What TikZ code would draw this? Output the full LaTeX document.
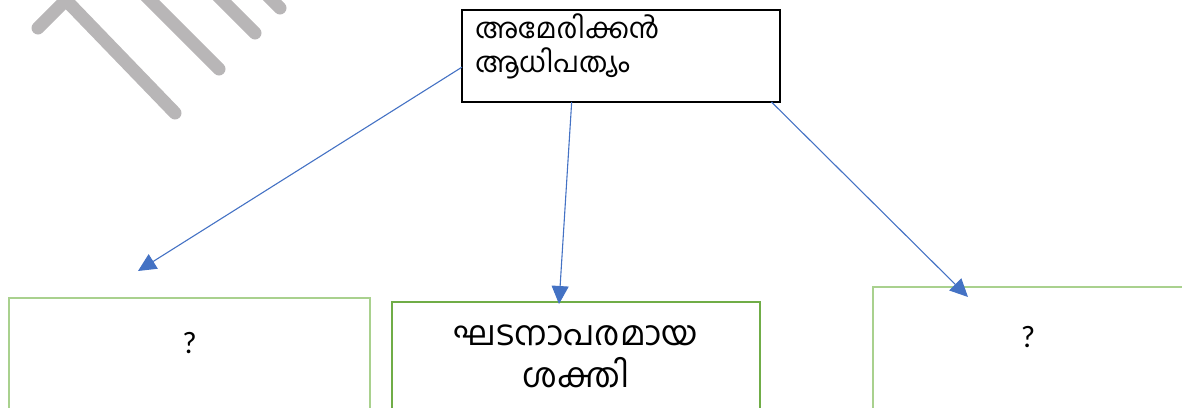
\documentclass[tikz,border=0pt]{standalone}
\usepackage{fontspec}
\newfontfamily\mlfont[Script=Malayalam]{Hind Kochi}
\newfontfamily\qfont{Carlito}
\usetikzlibrary{arrows.meta}
\definecolor{armblue}{HTML}{4472C4}
\definecolor{boxgreen}{HTML}{70AD47}
\definecolor{palegreen}{HTML}{A9D18E}
\definecolor{markgrey}{HTML}{B8B6B7}

\begin{document}
\begin{tikzpicture}[x=1pt, y=-1pt]
  \tikzset{every node/.style = {inner sep = 0pt, outer sep = 0pt},
           topbox/.style = {draw = black, line width = 2.5pt,
                            anchor = north west, align = left,
                            text width = 292pt, inner xsep = 13pt,
                            text height = 28pt, text depth = 64pt,
                            font = \mlfont\fontsize{28}{34}\selectfont},
           midbox/.style = {draw = boxgreen, line width = 2.5pt,
                            anchor = north, align = center,
                            text width = 368pt,
                            text height = 43pt, text depth = 150pt,
                            font = \mlfont\fontsize{34}{42}\selectfont},
           sidebox/.style = {draw = palegreen, line width = 1.5pt,
                             anchor = north, text depth = 100pt,
                             font = \qfont\fontsize{31}{37}\selectfont}}
  \tikzstyle{ArmStyle} = [draw = armblue, line width = 1.1pt,
                          -{Triangle[length = 18pt, width = 17pt]}]
\useasboundingbox (0,0) rectangle (1182,407);
\clip (0,0) rectangle (1182,407);

% watermark
\begin{scope}[markgrey, line width = 13pt, line cap = round]
  \draw (38,28) -- (80,-14);
  \draw (62,-4) -- (175,113);
  \draw (142,-8) -- (219,69);
  \draw (214,-8) -- (255,33);
  \draw (264,-8) -- (280,8);
\end{scope}

\node[topbox] (usa) at (462,10) {അമേരിക്കൻ\\ആധിപത്യം};
\node[midbox] (power) at (576,302) {ഘടനാപരമായ\\ശക്തി};
\node[sidebox, minimum width = 361pt, text height = 55pt] (left) at (189.5,298) {?};
\node[sidebox, minimum width = 310pt, text height = 60pt] (right) at (1028,287) {?};

\coordinate (lefttip) at (138,271);
\coordinate (midtip) at (559,304);
\coordinate (righttip) at (968,297);

\draw[ArmStyle] (usa.184) -- (lefttip);
\draw[ArmStyle] (usa.223) -- (midtip);
\draw[ArmStyle] (usa.343) -- (righttip);

\end{tikzpicture}
\end{document}
